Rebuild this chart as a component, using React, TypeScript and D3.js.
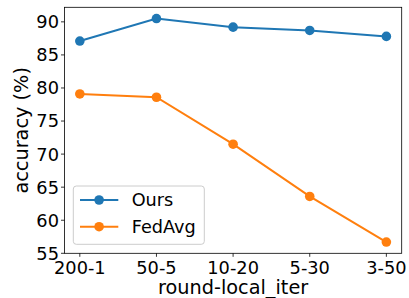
import React from "react";
import * as d3 from "d3";

const categories = ["200-1", "50-5", "10-20", "5-30", "3-50"];
const ours = [87.1, 90.5, 89.2, 88.7, 87.8];
const fedavg = [79.1, 78.6, 71.5, 63.6, 56.7];
const yTicks = [55, 60, 65, 70, 75, 80, 85, 90];

const series = [
  { name: "Ours", values: ours, color: "#1f77b4" },
  { name: "FedAvg", values: fedavg, color: "#ff7f0e" },
];

export default function App() {
  const width = 409;
  const height = 298;
  const margin = { top: 7.3, right: 7.3, bottom: 44.7, left: 64.5 };
  const innerW = width - margin.left - margin.right;
  const innerH = height - margin.top - margin.bottom;
  const font = "DejaVu Sans, sans-serif";

  const x = d3.scaleLinear().domain([-0.2, categories.length - 1 + 0.2]).range([0, innerW]);
  const y = d3.scaleLinear().domain([55, 92.2]).range([innerH, 0]);

  const line = d3
    .line<number>()
    .x((_, i) => x(i))
    .y((d) => y(d));

  return (
    <svg
      width={width}
      height={height}
      style={{ position: "absolute", left: 0, top: 0 }}
      fontFamily={font}
    >
      <rect width={width} height={height} fill="#fff" />
      <g transform={`translate(${margin.left},${margin.top})`}>
        {yTicks.map((t) => (
          <g key={t} transform={`translate(0,${y(t)})`}>
            <line x1={-3.5} x2={0} stroke="#000" strokeWidth={0.8} />
            <text x={-5.5} dy="0.36em" textAnchor="end" fontSize={17.8}>
              {t}
            </text>
          </g>
        ))}
        {categories.map((c, i) => (
          <g key={c} transform={`translate(${x(i)},${innerH})`}>
            <line y1={0} y2={3.5} stroke="#000" strokeWidth={0.8} />
            <text y={20.5} textAnchor="middle" fontSize={17.8}>
              {c}
            </text>
          </g>
        ))}
        {series.map((s) => (
          <g key={s.name}>
            <path d={line(s.values) ?? ""} fill="none" stroke={s.color} strokeWidth={2} />
            {s.values.map((v, i) => (
              <circle key={i} cx={x(i)} cy={y(v)} r={4.8} fill={s.color} />
            ))}
          </g>
        ))}
        <rect
          x={0}
          y={0}
          width={innerW}
          height={innerH}
          fill="none"
          stroke="#000"
          strokeWidth={0.8}
        />
        <g transform="translate(8.8,178.7)">
          <rect
            width={131}
            height={58.3}
            rx={3}
            fill="#fff"
            fillOpacity={0.8}
            stroke="#ccc"
            strokeWidth={1}
          />
          {series.map((s, i) => (
            <g key={s.name} transform={`translate(0,${14 + i * 26.7})`}>
              <line x1={6.7} x2={45} stroke={s.color} strokeWidth={2} />
              <circle cx={25.8} cy={0} r={4.8} fill={s.color} />
              <text x={58.4} dy="0.36em" fontSize={17.7}>
                {s.name}
              </text>
            </g>
          ))}
        </g>
      </g>
      <text
        transform={`translate(27.5,${margin.top + innerH / 2}) rotate(-90)`}
        textAnchor="middle"
        fontSize={19.3}
      >
        accuracy (%)
      </text>
      <text x={margin.left + innerW / 2} y={293.5} textAnchor="middle" fontSize={19.3}>
        round-local_iter
      </text>
    </svg>
  );
}
